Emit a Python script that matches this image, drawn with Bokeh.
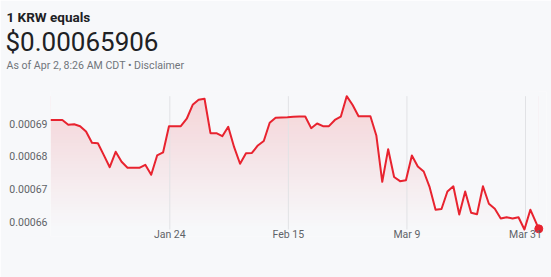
import numpy as np
import pandas as pd
from bokeh.plotting import figure
from bokeh.models import Range1d, FixedTicker, PrintfTickFormatter, Title
from bokeh.embed import file_html
from bokeh.resources import INLINE

# ---------------- data ----------------
title_text = "1 KRW equals"
price_text = "$0.00065906"
asof_text = "As of Apr 2, 8:26 AM CDT \u2022 Disclaimer"

rates = [
    6.9117e-4, 6.9117e-4, 6.9117e-4, 6.8972e-4, 6.8985e-4, 6.8926e-4, 6.8764e-4, 6.8417e-4,
    6.8404e-4, 6.8036e-4, 6.7667e-4, 6.8140e-4, 6.7833e-4, 6.7649e-4, 6.7649e-4, 6.7649e-4,
    6.7741e-4, 6.7434e-4, 6.8027e-4, 6.8119e-4, 6.8926e-4, 6.8926e-4, 6.8926e-4, 6.9154e-4,
    6.9583e-4, 6.9737e-4, 6.9768e-4, 6.8711e-4, 6.8711e-4, 6.8619e-4, 6.8908e-4, 6.8282e-4,
    6.7772e-4, 6.8097e-4, 6.8103e-4, 6.8334e-4, 6.8472e-4, 6.9031e-4, 6.9184e-4, 6.9193e-4,
    6.9200e-4, 6.9215e-4, 6.9224e-4, 6.9224e-4, 6.8865e-4, 6.9009e-4, 6.8926e-4, 6.8926e-4,
    6.9117e-4, 6.9218e-4, 6.9847e-4, 6.9577e-4, 6.9230e-4, 6.9230e-4, 6.9230e-4, 6.8641e-4,
    6.7219e-4, 6.8220e-4, 6.7367e-4, 6.7238e-4, 6.7268e-4, 6.8027e-4, 6.7689e-4, 6.7535e-4,
    6.7053e-4, 6.6360e-4, 6.6384e-4, 6.6921e-4, 6.7081e-4, 6.6215e-4, 6.6921e-4, 6.6270e-4,
    6.6221e-4, 6.7081e-4, 6.6544e-4, 6.6390e-4, 6.6092e-4, 6.6132e-4, 6.6092e-4, 6.6132e-4,
    6.5755e-4, 6.6363e-4, 6.5776e-4,
]
sample_start = "2025-01-01 20:38"
sample_step = "1583min"          # spacing of the sampled quotes
last_quote_time = "2025-04-02 11:14"

x_tick_dates = ["2025-01-24", "2025-02-15", "2025-03-09", "2025-03-31"]
x_tick_labels = ["Jan 24", "Feb 15", "Mar 9", "Mar 31"]
y_ticks = [0.00066, 0.00067, 0.00068, 0.00069]

# ---------------- styling ----------------
BG = "#f7f8fa"
RED = "#e8232f"
GRID = "#e1e2e5"
AXIS_TXT = "#5f6368"
FONT = "Roboto"

times = list(pd.date_range(sample_start, periods=len(rates) - 1, freq=sample_step)) + [pd.Timestamp(last_quote_time)]
xs = np.array([t.value / 1e6 for t in times])
ys = np.array(rates)
tick_ms = [pd.Timestamp(d).value / 1e6 for d in x_tick_dates]

vmin, vmax = ys.min(), ys.max()
vr = vmax - vmin
xspan = xs[-1] - xs[0]

p = figure(width=551, height=277, output_backend="svg", toolbar_location=None, title=None,
           x_range=Range1d(xs[0], xs[-1] + xspan * 0.0158),
           y_range=Range1d(vmin - vr * 0.0525, vmax + vr * 0.035),
           min_border_left=50, min_border_right=5, min_border_top=91, min_border_bottom=41)
p.background_fill_color = BG
p.border_fill_color = BG
p.outline_line_color = None
p.xgrid.visible = False
p.ygrid.visible = False

# gradient fill under the line: vertical gradient image, masked above the line
N = 256
img = np.zeros((N, 1), dtype=np.uint32)
view = img.view(dtype=np.uint8).reshape((N, 1, 4))
view[:, 0, 0] = 232
view[:, 0, 1] = 35
view[:, 0, 2] = 47
view[:, 0, 3] = (np.linspace(0.0, 0.17, N) * 255).astype(np.uint8)
p.image_rgba(image=[img], x=xs[0], y=vmin, dw=xs[-1] - xs[0], dh=vr)
p.varea(x=xs, y1=ys, y2=vmax + vr * 0.05, fill_color=BG, fill_alpha=1.0)

# vertical grid lines at the date ticks
p.segment(x0=tick_ms, y0=[vmin] * len(tick_ms), x1=tick_ms, y1=[vmax] * len(tick_ms),
          line_color=GRID, line_width=1)

p.line(xs, ys, line_color=RED, line_width=2, line_join="round")
p.scatter([xs[-1]], [ys[-1]], size=8, color=RED)

# axes
p.xaxis.ticker = FixedTicker(ticks=tick_ms)
p.xaxis.major_label_overrides = {t: l for t, l in zip(tick_ms, x_tick_labels)}
p.yaxis.ticker = FixedTicker(ticks=y_ticks)
p.yaxis.formatter = PrintfTickFormatter(format="%.5f")
for ax in (p.xaxis[0], p.yaxis[0]):
    ax.axis_line_color = None
    ax.major_tick_line_color = None
    ax.minor_tick_line_color = None
    ax.major_tick_out = 0
    ax.major_tick_in = 0
    ax.minor_tick_out = 0
    ax.minor_tick_in = 0
    ax.major_label_text_font = FONT
    ax.major_label_text_font_size = "10.5px"
    ax.major_label_text_color = AXIS_TXT
p.xaxis.major_label_standoff = -9
p.yaxis.major_label_standoff = 3

# header texts as stacked titles (first added = closest to the plot)
p.add_layout(Title(text=" ", align="left", offset=-44, standoff=17,
                   text_font=FONT, text_font_size="1px"), "above")
p.add_layout(Title(text=asof_text, align="left", offset=-44, standoff=0,
                   text_font=FONT, text_font_size="10.6px", text_font_style="normal",
                   text_color="#70757a"), "above")
p.add_layout(Title(text=price_text, align="left", offset=-45, standoff=0,
                   text_font=FONT, text_font_size="26px", text_font_style="normal",
                   text_color="#202124"), "above")
p.add_layout(Title(text=title_text, align="left", offset=-44, standoff=0,
                   text_font=FONT, text_font_size="13.5px", text_font_style="bold",
                   text_color="#202124"), "above")

open("out.html", "w").write(file_html(p, INLINE))
